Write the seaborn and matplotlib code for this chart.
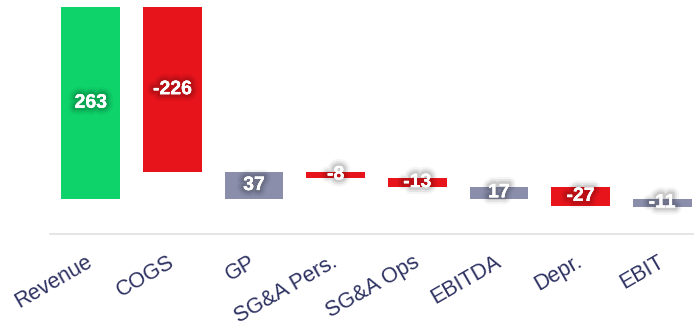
import matplotlib
matplotlib.use("Agg")
import matplotlib.pyplot as plt
import matplotlib.patheffects as pe
import matplotlib.transforms as mtransforms
import seaborn as sns

categories = ["Revenue", "COGS", "GP", "SG&A Pers.", "SG&A Ops", "EBITDA", "Depr.", "EBIT"]
values = [263, -226, 37, -8, -13, 17, -27, -11]
kinds = ["total", "delta", "total", "delta", "delta", "total", "delta", "total"]

GREEN = "#0ed36a"
RED = "#e8141c"
GREY = "#8a8eab"
TEXT = "#2d3161"

# waterfall bottoms
bottoms = []
running = 0
for v, k in zip(values, kinds):
    if k == "total":
        bottoms.append(0)
        running = v
    else:
        bottoms.append(running)
        running = running + v

colors = []
for i, (v, k) in enumerate(zip(values, kinds)):
    if i == 0:
        colors.append(GREEN)
    elif k == "total":
        colors.append(GREY)
    else:
        colors.append(RED if v < 0 else GREEN)

sns.set_theme(style="white")
plt.rcParams["font.family"] = ["Liberation Sans", "DejaVu Sans"]

fig = plt.figure(figsize=(6.94, 3.26), dpi=100)
ax = fig.add_axes([50 / 694, (326 - 234) / 326, 644 / 694, 234 / 326])

sns.barplot(x=categories, y=values, hue=categories, palette=colors, legend=False,
            width=0.72, errorbar=None, saturation=1, ax=ax, order=categories,
            hue_order=categories)

for p, b, v in zip(ax.patches, bottoms, values):
    p.set_y(b)
    p.set_height(v)
    p.set_linewidth(0)

glow = [pe.withStroke(linewidth=10, foreground="black", alpha=0.04),
        pe.withStroke(linewidth=7, foreground="black", alpha=0.07),
        pe.withStroke(linewidth=4, foreground="black", alpha=0.10),
        pe.Normal()]
for i, (b, v) in enumerate(zip(bottoms, values)):
    ax.text(i, b + v / 2, f"{v}", ha="center", va="center", color="white",
            fontsize=14, fontweight="bold", path_effects=glow)

ax.set_xlim(-0.5, 7.39)
ax.set_ylim(-48, 273)
ax.set_yticks([])
ax.set_xlabel("")
ax.set_ylabel("")
for s in ["top", "left", "right"]:
    ax.spines[s].set_visible(False)
ax.spines["bottom"].set_color("#e0e0e0")
ax.spines["bottom"].set_linewidth(1.2)

ax.tick_params(axis="x", length=0, pad=22.5)
ax.set_xticks(range(len(categories)))
ax.set_xticklabels(categories, rotation=30, ha="right", va="baseline",
                   rotation_mode="anchor", color=TEXT, fontsize=15.5)
shift = mtransforms.ScaledTranslation(3 / 100, 0, fig.dpi_scale_trans)
for lab in ax.get_xticklabels():
    lab.set_transform(lab.get_transform() + shift)

fig.savefig("out.png", dpi=100)
